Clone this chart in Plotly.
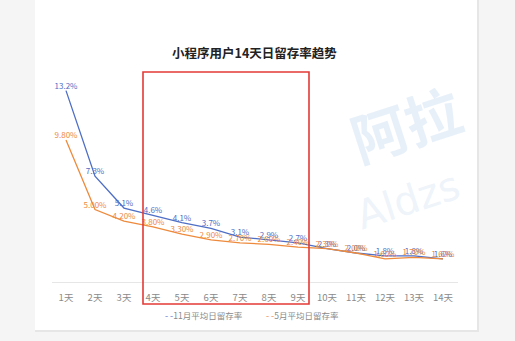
import plotly.graph_objects as go

days = ["1天", "2天", "3天", "4天", "5天", "6天", "7天", "8天", "9天", "10天", "11天", "12天", "13天", "14天"]
nov_values = [13.2, 7.3, 5.1, 4.6, 4.1, 3.7, 3.1, 2.9, 2.7, 2.3, 2.0, 1.8, 1.8, 1.6]
may_values = [9.8, 5.0, 4.2, 3.8, 3.3, 2.9, 2.7, 2.6, 2.4, 2.3, 2.0, 1.6, 1.7, 1.6]
nov_labels = [f"{v:.1f}%" for v in nov_values]
may_labels = [f"{v:.2f}%" for v in may_values]
nov_name = "11月平均日留存率"
may_name = "5月平均日留存率"
title_text = "小程序用户14天日留存率趋势"

W, H = 515, 341
BLUE = "#4f6fc6"
ORANGE = "#ee8a3c"
FONT = "Noto Sans CJK SC, Noto Sans, sans-serif"

def px(x):
    return x / W

def py(y):
    return 1 - y / H

fig = go.Figure()

fig.add_trace(go.Scatter(
    x=days, y=nov_values, mode="lines+text", text=nov_labels, name=nov_name,
    textposition="top center", textfont=dict(color=BLUE, size=8, family=FONT),
    line=dict(color=BLUE, width=1.3), showlegend=False, cliponaxis=False))
fig.add_trace(go.Scatter(
    x=days, y=may_values, mode="lines+text", text=may_labels, name=may_name,
    textposition="top center", textfont=dict(color=ORANGE, size=8, family=FONT),
    line=dict(color=ORANGE, width=1.3), showlegend=False, cliponaxis=False))

shapes = [
    dict(type="rect", xref="paper", yref="paper", x0=px(35), x1=px(479), y0=py(332), y1=py(-5),
         fillcolor="#e6e6e6", line=dict(width=0), layer="below"),
    dict(type="rect", xref="paper", yref="paper", x0=px(35), x1=px(477), y0=py(330), y1=py(-5),
         fillcolor="white", line=dict(width=0), layer="below"),
    dict(type="rect", xref="paper", yref="paper", x0=px(143), x1=px(309), y0=py(304), y1=py(72),
         line=dict(color="#e23a36", width=1.6), fillcolor="rgba(0,0,0,0)", layer="above"),
]

annotations = [
    dict(text="<b>" + title_text + "</b>", x=px(254), y=py(53), xref="paper", yref="paper",
         xanchor="center", yanchor="middle", showarrow=False,
         font=dict(size=12.5, color="#222", family=FONT)),
    dict(text="<b>阿拉</b>", x=px(405), y=py(122), xref="paper", yref="paper", showarrow=False,
         xanchor="center", yanchor="middle", textangle=-18,
         font=dict(size=56, color="rgba(195,218,240,0.4)", family=FONT)),
    dict(text="Aldzs", x=px(408), y=py(200), xref="paper", yref="paper", showarrow=False,
         xanchor="center", yanchor="middle", textangle=-18,
         font=dict(size=40, color="rgba(195,218,240,0.3)", family="DejaVu Sans")),
    dict(text=f"<span style='color:#8ea2dc'><b>- -</b></span>{nov_name}", x=px(163), y=py(315),
         xref="paper", yref="paper", xanchor="left", yanchor="middle", showarrow=False,
         font=dict(size=8.5, color="#8a8a8a", family=FONT)),
    dict(text=f"<span style='color:#f2ae7a'><b>- -</b></span>{may_name}", x=px(264), y=py(315),
         xref="paper", yref="paper", xanchor="left", yanchor="middle", showarrow=False,
         font=dict(size=8.5, color="#8a8a8a", family=FONT)),
]

fig.update_layout(
    width=W, height=H,
    margin=dict(l=0, r=0, t=0, b=0),
    paper_bgcolor="#f5f5f5",
    plot_bgcolor="rgba(0,0,0,0)",
    font=dict(family=FONT),
    shapes=shapes,
    annotations=annotations,
    xaxis=dict(domain=[px(51.5), px(457.5)], type="category", range=[-0.5, 13.5],
               showgrid=False, zeroline=False, showline=False, ticks="",
               ticklabelstandoff=8,
               tickfont=dict(size=9.5, color="#8a8a8a"), fixedrange=True),
    yaxis=dict(domain=[py(282), py(79)], range=[0, 14], showgrid=False, zeroline=True,
               zerolinecolor="#e6e6e6", zerolinewidth=1, showticklabels=False, fixedrange=True),
    showlegend=False,
)

fig.write_html("out.html")
